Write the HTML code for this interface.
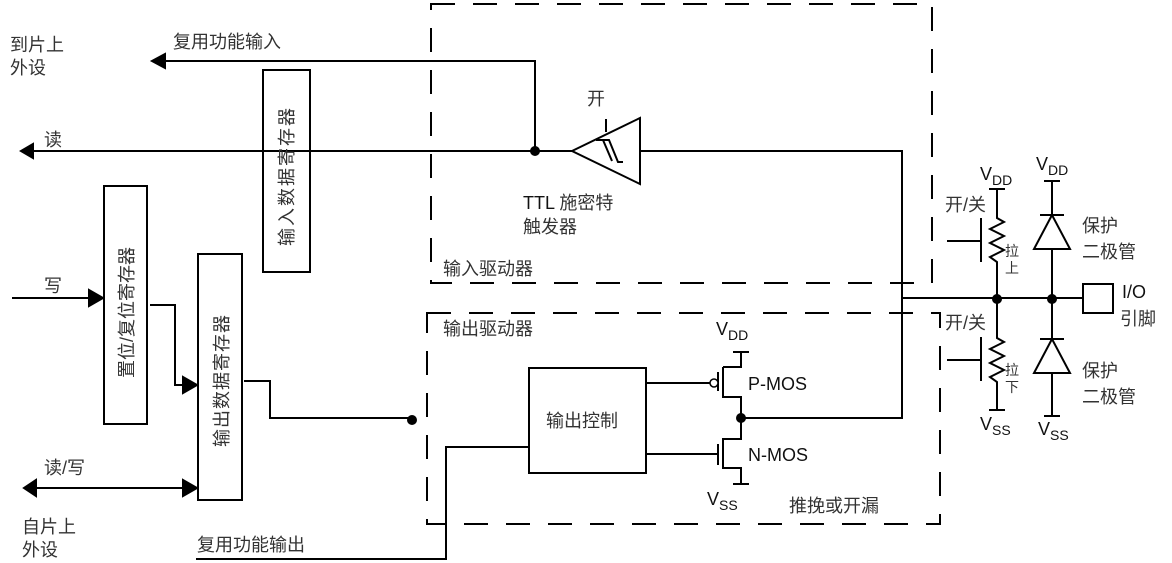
<!DOCTYPE html>
<html><head><meta charset="utf-8"><style>
html,body{margin:0;padding:0;background:#fff;width:1172px;height:563px;overflow:hidden}
svg{display:block}
text{font-family:"Liberation Sans","Noto Sans CJK SC",sans-serif;fill:#111}
.c{fill:#333}
</style></head><body>
<svg width="1172" height="563" viewBox="0 0 1172 563" xmlns="http://www.w3.org/2000/svg">
<g stroke="#000" stroke-width="2" fill="none">
<path d="M431,4 H932 V283 H431 Z" stroke-dasharray="24,18"/>
<path d="M427,313 H940 V524 H427 Z" stroke-dasharray="24,18"/>
<rect x="263" y="70" width="47" height="202"/>
<rect x="104" y="186" width="43" height="238"/>
<rect x="198" y="254" width="44" height="246"/>
<rect x="529" y="368" width="117" height="105"/>
<path d="M572,151 H33"/>
<path d="M33,144 L21,151 L33,158 Z" fill="#000"/>
<path d="M535,151 V61 H165"/>
<path d="M165,54 L152,61 L165,68 Z" fill="#000"/>
<path d="M572,151 L640,118 V184 Z"/>
<path d="M640,151 H902 V418 H741"/>
<path d="M606,132 V119 M596,140 H609 L618,162 H623 M603,140 L612,161"/>
<path d="M12,298 H92"/>
<path d="M89,290 L103,298 L89,306 Z" fill="#000"/>
<path d="M150,305 H175 V385 H185"/>
<path d="M183,377 L197,385 L183,393 Z" fill="#000"/>
<path d="M244,381 H270 V418 H410"/>
<path d="M36,488 H186"/>
<path d="M36,480 L24,488 L36,496 Z" fill="#000"/>
<path d="M183,480 L197,488 L183,496 Z" fill="#000"/>
<path d="M196,559 H446 V447 H529"/>
<path d="M646,383 H710 M646,454 H718"/>
<path d="M718,372 V391 M718,444 V465"/>
<path d="M723,367 H741 V352 M733,352 H749 M723,367 V397 H741 V439 H723 V468 H741 V484 M733,484 H749"/>
<path d="M902,298 H1083"/>
<rect x="1083" y="284" width="30" height="29"/>
<path d="M989,189 H1005 M997,189 V218 L1004,222 L990,229 L1004,236 L990,243 L1004,250 L990,257 L997,262 V338 L1004,342 L990,349 L1004,356 L990,363 L1004,370 L990,377 L997,382 V410 M989,410 H1005"/>
<path d="M947,241 H981 M981,218 V262 M947,360 H981 M981,337 V381"/>
<path d="M1044,181 H1060 M1052,181 V215 M1040,215 H1064 M1052,215 L1034,249 H1070 Z M1052,249 V339 M1040,339 H1064 M1052,339 L1034,373 H1070 Z M1052,373 V416 M1044,416 H1060"/>
</g>
<circle cx="535" cy="151" r="5" fill="#000"/>
<circle cx="412" cy="420" r="5" fill="#000"/>
<circle cx="741" cy="418" r="5" fill="#000"/>
<circle cx="997" cy="299" r="5" fill="#000"/>
<circle cx="1052" cy="299" r="5" fill="#000"/>
<circle cx="714" cy="383" r="4" fill="#fff" stroke="#000" stroke-width="1.5"/>
<g font-size="18">
<text x="10" y="51" class="c">到片上</text>
<text x="10" y="74" class="c">外设</text>
<text x="173" y="48" class="c">复用功能输入</text>
<text x="44" y="146" class="c">读</text>
<text x="44" y="292" class="c">写</text>
<text x="44" y="474" class="c">读/写</text>
<text x="22" y="533" class="c">自片上</text>
<text x="22" y="556" class="c">外设</text>
<text x="197" y="551" class="c">复用功能输出</text>
<text x="587" y="105" class="c">开</text>
<text x="523" y="209">TTL <tspan class="c">施密特</tspan></text>
<text x="523" y="233" class="c">触发器</text>
<text x="443" y="275" class="c">输入驱动器</text>
<text x="443" y="335" class="c">输出驱动器</text>
<text x="546" y="427" class="c">输出控制</text>
<text x="789" y="512" class="c">推挽或开漏</text>
<text x="945" y="211" class="c">开/关</text>
<text x="945" y="329" class="c">开/关</text>
<text x="1082" y="232" class="c">保护</text>
<text x="1082" y="258" class="c">二极管</text>
<text x="1082" y="377" class="c">保护</text>
<text x="1082" y="403" class="c">二极管</text>
<text x="1122" y="298">I/O</text>
<text x="1120" y="325" class="c">引脚</text>
<text x="748" y="390">P-MOS</text>
<text x="748" y="461">N-MOS</text>
</g>
<g font-size="14">
<text x="1005" y="256" class="c">拉</text><text x="1005" y="273" class="c">上</text>
<text x="1005" y="375" class="c">拉</text><text x="1005" y="392" class="c">下</text>
</g>
<g font-size="18">
<text x="716" y="335">V<tspan font-size="14" dy="5">DD</tspan></text>
<text x="707" y="505">V<tspan font-size="14" dy="5">SS</tspan></text>
<text x="980" y="180">V<tspan font-size="14" dy="5">DD</tspan></text>
<text x="1036" y="170">V<tspan font-size="14" dy="5">DD</tspan></text>
<text x="980" y="430">V<tspan font-size="14" dy="5">SS</tspan></text>
<text x="1038" y="435">V<tspan font-size="14" dy="5">SS</tspan></text>
</g>
<g font-size="18">
<text transform="translate(293,246) rotate(-90)" class="c" letter-spacing="2">输入数据寄存器</text>
<text transform="translate(133,378) rotate(-90)" class="c" letter-spacing="0">置位/复位寄存器</text>
<text transform="translate(228,447) rotate(-90)" class="c" letter-spacing="1">输出数据寄存器</text>
</g>
</svg>
</body></html>
